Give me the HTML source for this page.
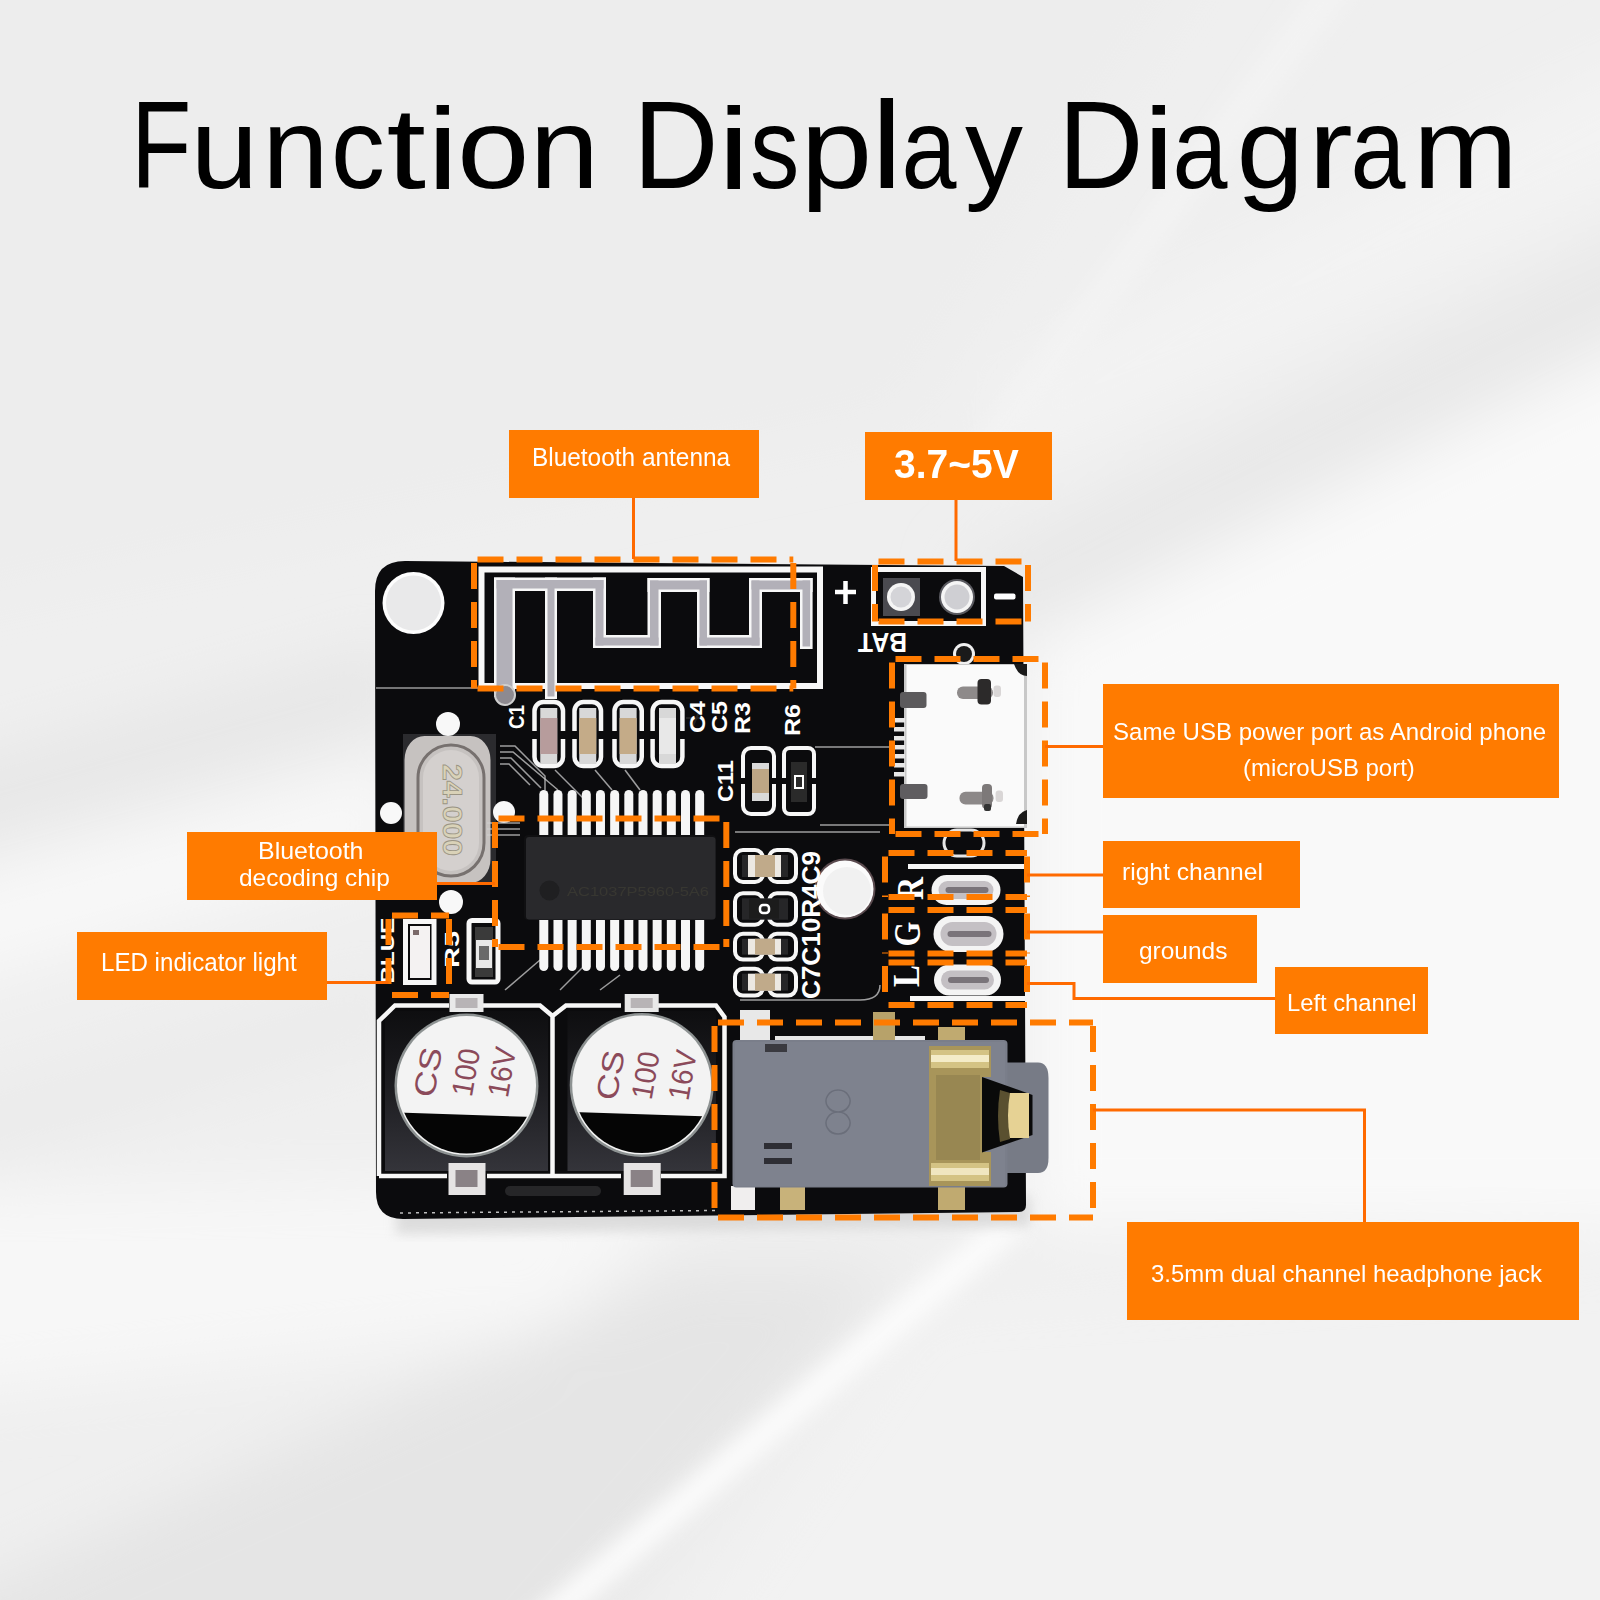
<!DOCTYPE html>
<html><head><meta charset="utf-8">
<style>
html,body{margin:0;padding:0;}
body{width:1600px;height:1600px;position:relative;overflow:hidden;font-family:"Liberation Sans",sans-serif;background:#efefef;}
svg{position:absolute;left:0;top:0;}
.t{position:absolute;white-space:nowrap;line-height:1;}
.title{font-size:123.5px;color:#000;transform-origin:0 0;}
.box{position:absolute;background:#ff7b00;}
.lab{position:absolute;white-space:nowrap;line-height:1;color:#fff;transform-origin:0 0;}
</style></head>
<body>
<svg width="1600" height="1600" viewBox="0 0 1600 1600">

<defs>
<filter id="bgb" x="-10%" y="-10%" width="120%" height="120%"><feGaussianBlur stdDeviation="30"/></filter>
<filter id="bgb2" x="-10%" y="-10%" width="120%" height="120%"><feGaussianBlur stdDeviation="10"/></filter>
</defs>
<rect width="1600" height="1600" fill="#efefef"/>
<g filter="url(#bgb)">
<!-- top-left slightly darker -->
<path d="M-100 -100 L1250 -100 L900 420 L-100 620 Z" fill="#ededed"/>
<!-- right white region -->
<path d="M1030 650 L1700 320 L1700 1230 L1030 1230 Z" fill="#f9f9f9"/>
<!-- gray band right -->
<path d="M960 570 L1700 200 L1700 290 L990 640 Z" fill="#e8e8e8"/>
<!-- top right lighter -->
<path d="M1000 380 L1700 20 L1700 150 L1000 480 Z" fill="#f3f3f3"/>
<!-- left gray band -->
<path d="M-100 780 L400 640 L400 720 L-100 860 Z" fill="#e7e7e7"/>
<!-- left white band -->
<path d="M-100 900 L400 760 L400 860 L-100 1000 Z" fill="#f8f8f8"/>
<!-- left lower gray -->
<path d="M-100 1110 L400 970 L400 1040 L-100 1190 Z" fill="#ebebeb"/>
<!-- bottom-left white -->
<path d="M-100 1190 L700 1180 L560 1330 L-100 1400 Z" fill="#f7f7f7"/>
<!-- bottom gray wedge -->
<path d="M-100 1620 L-50 1600 L680 1270 L900 1270 L520 1700 L-100 1700 Z" fill="#e5e5e5"/>
<!-- bottom right -->
<path d="M920 1300 L1700 1250 L1700 1700 L640 1700 Z" fill="#f2f2f2"/>
</g>
<g filter="url(#bgb2)">
<path d="M1320 -20 L1360 -20 L990 470 L960 460 Z" fill="#f3f3f3"/>
<path d="M500 1640 L990 1222 L1030 1228 L545 1640 Z" fill="#fbfbfb"/>
</g>

</svg>
<div class="t title" style="left:123.12px;top:84px;transform-origin:40.0px 103px;transform:scale(0.800,1.0)">F</div>
<div class="t title" style="left:190.38px;top:84px;transform-origin:34.0px 103px;transform:scale(0.986,0.93)">u</div>
<div class="t title" style="left:261.12px;top:84px;transform-origin:34.5px 103px;transform:scale(0.967,0.93)">n</div>
<div class="t title" style="left:326.62px;top:84px;transform-origin:31.5px 103px;transform:scale(0.873,0.93)">c</div>
<div class="t title" style="left:389.38px;top:84px;transform-origin:17.5px 103px;transform:scale(1.150,0.93)">t</div>
<div class="t title" style="left:429.00px;top:84px;transform-origin:13.5px 103px;transform:scale(1.136,0.93)">i</div>
<div class="t title" style="left:459.12px;top:84px;transform-origin:34.0px 103px;transform:scale(1.056,0.93)">o</div>
<div class="t title" style="left:529.88px;top:84px;transform-origin:34.5px 103px;transform:scale(1.014,0.93)">n</div>
<div class="t title" style="left:631.00px;top:84px;transform-origin:46.5px 103px;transform:scale(0.959,1.0)">D</div>
<div class="t title" style="left:719.62px;top:84px;transform-origin:13.5px 103px;transform:scale(1.150,0.93)">i</div>
<div class="t title" style="left:743.88px;top:84px;transform-origin:30.5px 103px;transform:scale(0.800,0.93)">s</div>
<div class="t title" style="left:802.00px;top:84px;transform-origin:35.5px 103px;transform:scale(1.045,0.93)">p</div>
<div class="t title" style="left:872.75px;top:84px;transform-origin:13.5px 103px;transform:scale(1.136,1.0)">l</div>
<div class="t title" style="left:894.25px;top:84px;transform-origin:37.0px 103px;transform:scale(0.800,0.93)">a</div>
<div class="t title" style="left:963.38px;top:84px;transform-origin:31.0px 103px;transform:scale(0.938,0.93)">y</div>
<div class="t title" style="left:1056.00px;top:84px;transform-origin:46.5px 103px;transform:scale(0.959,1.0)">D</div>
<div class="t title" style="left:1144.62px;top:84px;transform-origin:13.5px 103px;transform:scale(1.150,0.93)">i</div>
<div class="t title" style="left:1164.88px;top:84px;transform-origin:37.0px 103px;transform:scale(0.800,0.93)">a</div>
<div class="t title" style="left:1235.75px;top:84px;transform-origin:33.0px 103px;transform:scale(0.982,0.93)">g</div>
<div class="t title" style="left:1309.62px;top:84px;transform-origin:23.5px 103px;transform:scale(1.089,0.93)">r</div>
<div class="t title" style="left:1343.00px;top:84px;transform-origin:37.0px 103px;transform:scale(0.800,0.93)">a</div>
<div class="t title" style="left:1414.12px;top:84px;transform-origin:51.5px 103px;transform:scale(1.020,0.93)">m</div>
<svg width="1600" height="1600" viewBox="0 0 1600 1600"><defs></defs>
<filter id="blur2" x="-20%" y="-20%" width="140%" height="140%"><feGaussianBlur stdDeviation="6"/></filter>
<path d="M396 1200 L1030 1196 L1030 1226 L396 1234 Z" fill="#d6d6d6" filter="url(#blur2)" opacity="0.8"/>
<path d="M405 561 L1004 566 L1023 577 L1026 1205 Q1026 1212 1019 1212 L403 1219 Q376 1219 376 1192 L375 591 Q375 561 405 561 Z" fill="#0b0b0d"/>
<circle cx="413.5" cy="603" r="31" fill="#fdfdfd"/><circle cx="413.5" cy="603" r="27.5" fill="#e9e9ea"/>
<line x1="376" y1="688" x2="479" y2="688" stroke="#9a9a9a" stroke-width="1.5"/>
<rect x="481.5" y="569.5" width="338.5" height="116.5" fill="none" stroke="#f7f7f7" stroke-width="6"/>
<rect x="494" y="577.5" width="21" height="119.5" fill="#f7f7f7"/>
<rect x="494" y="577.5" width="112" height="13.5" fill="#f7f7f7"/>
<rect x="545" y="577.5" width="12" height="121.5" fill="#f7f7f7"/>
<rect x="593" y="577.5" width="13" height="70.5" fill="#f7f7f7"/>
<rect x="593" y="635" width="68" height="13" fill="#f7f7f7"/>
<rect x="647.5" y="578" width="13.5" height="70" fill="#f7f7f7"/>
<rect x="647.5" y="578" width="62.0" height="14" fill="#f7f7f7"/>
<rect x="697" y="578" width="12.5" height="70" fill="#f7f7f7"/>
<rect x="697" y="635" width="65" height="13" fill="#f7f7f7"/>
<rect x="749" y="578" width="13" height="70" fill="#f7f7f7"/>
<rect x="749" y="578" width="63.60000000000002" height="14" fill="#f7f7f7"/>
<rect x="800" y="578" width="12.600000000000023" height="71" fill="#f7f7f7"/>
<rect x="496.5" y="580.0" width="16" height="114.5" fill="#b2b0b8"/>
<rect x="496.5" y="580.0" width="107" height="8.5" fill="#b2b0b8"/>
<rect x="547.5" y="580.0" width="7" height="116.5" fill="#b2b0b8"/>
<rect x="595.5" y="580.0" width="8" height="65.5" fill="#b2b0b8"/>
<rect x="595.5" y="637.5" width="63" height="8" fill="#b2b0b8"/>
<rect x="650.0" y="580.5" width="8.5" height="65" fill="#b2b0b8"/>
<rect x="650.0" y="580.5" width="57.0" height="9" fill="#b2b0b8"/>
<rect x="699.5" y="580.5" width="7.5" height="65" fill="#b2b0b8"/>
<rect x="699.5" y="637.5" width="60" height="8" fill="#b2b0b8"/>
<rect x="751.5" y="580.5" width="8" height="65" fill="#b2b0b8"/>
<rect x="751.5" y="580.5" width="58.60000000000002" height="9" fill="#b2b0b8"/>
<rect x="802.5" y="580.5" width="7.600000000000023" height="66" fill="#b2b0b8"/>
<circle cx="505" cy="695" r="10" fill="#8d8a90" stroke="#cfcfcf" stroke-width="2"/>
<path d="M835 592 L856 592 M845.5 581 L845.5 604" stroke="#fff" stroke-width="4.5" fill="none"/>
<rect x="873.5" y="569.5" width="110" height="54" fill="none" stroke="#f7f7f7" stroke-width="5"/>
<rect x="883" y="578" width="37" height="38" fill="#4a4a50"/>
<circle cx="901" cy="597" r="14" fill="#f5f5f5"/><circle cx="901" cy="597" r="10.5" fill="#d4d4d8"/>
<circle cx="957" cy="597" r="18" fill="#5a5a60"/><circle cx="957" cy="597" r="16" fill="#f5f5f5"/><circle cx="957" cy="597" r="12.5" fill="#cfcfd3"/>
<rect x="994" y="593.5" width="21.5" height="6" rx="2" fill="#fff"/>
<text x="0" y="0" transform="translate(907 633) rotate(180)" font-family="Liberation Sans" font-weight="bold" font-size="28" fill="#fff" textLength="49" lengthAdjust="spacingAndGlyphs">BAT</text>
<circle cx="964" cy="654" r="11" fill="#f0f0f0"/><circle cx="964" cy="654" r="8" fill="#1a1a1a"/>
<rect x="904" y="664" width="123" height="164" fill="#c8c8c8"/>
<rect x="906.5" y="665" width="117.5" height="161.5" fill="#fafafa"/>
<path d="M1014 664 L1027 664 L1027 676 Q1018 676 1014 664 Z" fill="#1a1a1a"/><path d="M1027 810 L1027 824 L1016 824 Q1018 812 1027 810 Z" fill="#1a1a1a"/>
<rect x="900" y="692" width="26.5" height="16" rx="3" fill="#5c5a5c"/><rect x="900" y="784" width="27.5" height="15" rx="3" fill="#5f5d60"/>
<rect x="957" y="686.5" width="36" height="12.5" rx="6" fill="#8e8a8a"/><rect x="977.5" y="679" width="13.5" height="25.6" rx="4" fill="#2c2a2a"/><rect x="993.5" y="685.5" width="7.5" height="11.5" rx="3" fill="#d9d6d6"/>
<rect x="959.5" y="791.7" width="34" height="12.8" rx="6" fill="#8c8888"/><rect x="982" y="784" width="10" height="24.7" rx="4" fill="#7d7979"/><rect x="984" y="804" width="7" height="7" rx="2" fill="#333"/><rect x="995.6" y="790.6" width="7.4" height="11.4" rx="3" fill="#d9d6d6"/>
<rect x="894" y="718" width="11" height="4.5" fill="#e8e8e8"/>
<rect x="894" y="727" width="11" height="4.5" fill="#e8e8e8"/>
<rect x="894" y="736" width="11" height="4.5" fill="#e8e8e8"/>
<rect x="894" y="745" width="11" height="4.5" fill="#e8e8e8"/>
<rect x="894" y="754" width="11" height="4.5" fill="#e8e8e8"/>
<rect x="894" y="763" width="11" height="4.5" fill="#e8e8e8"/>
<rect x="894" y="772" width="11" height="4.5" fill="#e8e8e8"/>
<rect x="908" y="864" width="116" height="5" fill="#f7f7f7"/>
<rect x="910" y="996" width="115" height="5" fill="#f7f7f7"/>
<rect x="931.5" y="875.0" width="69" height="30" rx="15.0" fill="#f4f4f4"/>
<rect x="938.5" y="881.0" width="55" height="18" rx="9.0" fill="#c4c0c4"/>
<rect x="945.5" y="887" width="43" height="6" rx="3" fill="#7a747a"/>
<rect x="933.5" y="916.0" width="70" height="36" rx="18.0" fill="#f4f4f4"/>
<rect x="940.5" y="922.0" width="56" height="24" rx="12.0" fill="#c4c0c4"/>
<rect x="947.5" y="931" width="44" height="6" rx="3" fill="#7a747a"/>
<rect x="934.0" y="964.5" width="67" height="31" rx="15.5" fill="#f4f4f4"/>
<rect x="941.0" y="970.5" width="53" height="19" rx="9.5" fill="#c4c0c4"/>
<rect x="948.0" y="977" width="41" height="6" rx="3" fill="#7a747a"/>
<text transform="translate(910 888.5) rotate(-90)" x="0" y="0" text-anchor="middle" dominant-baseline="central" font-family="Liberation Serif" font-weight="bold" font-size="38" fill="#fff" textLength="23" lengthAdjust="spacingAndGlyphs">R</text>
<text transform="translate(907 934) rotate(-90)" x="0" y="0" text-anchor="middle" dominant-baseline="central" font-family="Liberation Serif" font-weight="bold" font-size="38" fill="#fff" textLength="25" lengthAdjust="spacingAndGlyphs">G</text>
<text transform="translate(906 976) rotate(-90)" x="0" y="0" text-anchor="middle" dominant-baseline="central" font-family="Liberation Serif" font-weight="bold" font-size="38" fill="#fff" textLength="22" lengthAdjust="spacingAndGlyphs">L</text>
<rect x="944" y="830" width="40" height="26" rx="13" fill="none" stroke="#e6e6e6" stroke-width="3"/>
<circle cx="845" cy="889" r="30.5" fill="#5a4a4e"/><circle cx="845" cy="889" r="28.5" fill="#fbfbfb"/><circle cx="847" cy="891" r="24" fill="#f1f1f1"/>
<rect x="403" y="734" width="93" height="148" fill="#2b2b2e"/>
<rect x="404.5" y="736" width="86" height="147" rx="20" ry="24" fill="#c6c2c0"/>
<rect x="418" y="745" width="66" height="131" rx="33" fill="none" stroke="#77716f" stroke-width="3"/>
<rect x="423" y="750" width="56" height="121" rx="28" fill="#d4d0ce"/>
<text transform="translate(452 810) rotate(90)" x="0" y="0" text-anchor="middle" dominant-baseline="central" font-family="Liberation Sans" font-weight="bold" font-size="27" fill="#d9d2b8" stroke="#9a9484" stroke-width="0.8" textLength="92" lengthAdjust="spacingAndGlyphs">24.000</text>
<circle cx="448" cy="724" r="12" fill="#f8f8f8"/>
<circle cx="391" cy="813" r="11" fill="#f8f8f8"/>
<circle cx="504" cy="812" r="11" fill="#f8f8f8"/>
<circle cx="451" cy="902" r="12" fill="#f8f8f8"/>
<rect x="534.5" y="702" width="28.5" height="64" rx="9" fill="none" stroke="#f7f7f7" stroke-width="4.5"/>
<rect x="531.5" y="731" width="34.5" height="8" fill="#0b0b0d"/>
<rect x="540.25" y="708" width="17" height="56" fill="#d8d8d8"/>
<rect x="540.25" y="718" width="17" height="36" fill="#b79c9c"/>
<rect x="574.5" y="702" width="26.5" height="64" rx="9" fill="none" stroke="#f7f7f7" stroke-width="4.5"/>
<rect x="571.5" y="731" width="32.5" height="8" fill="#0b0b0d"/>
<rect x="579.25" y="708" width="17" height="56" fill="#d8d8d8"/>
<rect x="579.25" y="718" width="17" height="36" fill="#c4ab88"/>
<rect x="614.5" y="702" width="27.25" height="64" rx="9" fill="none" stroke="#f7f7f7" stroke-width="4.5"/>
<rect x="611.5" y="731" width="33.25" height="8" fill="#0b0b0d"/>
<rect x="619.625" y="708" width="17" height="56" fill="#d8d8d8"/>
<rect x="619.625" y="718" width="17" height="36" fill="#c4ab88"/>
<rect x="652.6" y="702" width="29.799999999999955" height="64" rx="9" fill="none" stroke="#f7f7f7" stroke-width="4.5"/>
<rect x="649.6" y="731" width="35.799999999999955" height="8" fill="#0b0b0d"/>
<rect x="659.0" y="708" width="17" height="56" fill="#d8d8d8"/>
<rect x="659.0" y="718" width="17" height="36" fill="#e8e8e8"/>
<path d="M693 726 l6 -14 M686 718 l14 0" stroke="#222" stroke-width="2"/>
<rect x="743" y="748" width="31" height="66" rx="8" fill="none" stroke="#f7f7f7" stroke-width="4"/>
<rect x="740" y="778" width="37" height="6" fill="#0b0b0d"/>
<rect x="752" y="763" width="17" height="38" fill="#d9d9d9"/><rect x="752" y="769" width="17" height="24" fill="#bea685"/>
<rect x="784" y="748" width="30" height="66" rx="6" fill="none" stroke="#f7f7f7" stroke-width="4"/>
<rect x="781" y="778" width="36" height="6" fill="#0b0b0d"/>
<rect x="791" y="762" width="16" height="40" fill="#2a2a2a"/><rect x="795" y="776" width="8" height="12" fill="none" stroke="#fff" stroke-width="2"/>
<path d="M500 746 L515 746 L545 776 L545 790" fill="none" stroke="#cfcfcf" stroke-width="1.5" opacity="0.75"/>
<path d="M500 752 L513 752 L558 790" fill="none" stroke="#cfcfcf" stroke-width="1.5" opacity="0.75"/>
<path d="M500 758 L511 758 L541 788" fill="none" stroke="#cfcfcf" stroke-width="1.5" opacity="0.75"/>
<path d="M500 764 L509 764 L530 785" fill="none" stroke="#cfcfcf" stroke-width="1.5" opacity="0.75"/>
<path d="M555 770 L585 800" fill="none" stroke="#cfcfcf" stroke-width="1.5" opacity="0.75"/>
<path d="M595 770 L612 790" fill="none" stroke="#cfcfcf" stroke-width="1.5" opacity="0.75"/>
<path d="M625 770 L640 790" fill="none" stroke="#cfcfcf" stroke-width="1.5" opacity="0.75"/>
<path d="M487 823 L520 823" fill="none" stroke="#cfcfcf" stroke-width="1.5" opacity="0.75"/>
<path d="M487 829 L520 829" fill="none" stroke="#cfcfcf" stroke-width="1.5" opacity="0.75"/>
<path d="M487 835 L520 835" fill="none" stroke="#cfcfcf" stroke-width="1.5" opacity="0.75"/>
<path d="M735 832 L880 832" fill="none" stroke="#cfcfcf" stroke-width="1.5" opacity="0.75"/>
<path d="M815 747 L895 747" fill="none" stroke="#cfcfcf" stroke-width="1.5" opacity="0.75"/>
<path d="M820 825 L890 825" fill="none" stroke="#cfcfcf" stroke-width="1.5" opacity="0.75"/>
<path d="M505 990 L540 960" fill="none" stroke="#cfcfcf" stroke-width="1.5" opacity="0.75"/>
<path d="M560 990 L590 960" fill="none" stroke="#cfcfcf" stroke-width="1.5" opacity="0.75"/>
<path d="M600 990 L620 975" fill="none" stroke="#cfcfcf" stroke-width="1.5" opacity="0.75"/>
<path d="M740 1000 L860 1000" fill="none" stroke="#cfcfcf" stroke-width="1.5" opacity="0.75"/>
<path d="M860 1000 Q880 1000 880 985" fill="none" stroke="#cfcfcf" stroke-width="1.5" opacity="0.75"/>
<rect x="539.3" y="790" width="9" height="50" rx="4.5" fill="#f6f6f6"/>
<rect x="539.3" y="916" width="9" height="55" rx="4.5" fill="#f6f6f6"/>
<rect x="553.4699999999999" y="790" width="9" height="50" rx="4.5" fill="#f6f6f6"/>
<rect x="553.4699999999999" y="916" width="9" height="55" rx="4.5" fill="#f6f6f6"/>
<rect x="567.64" y="790" width="9" height="50" rx="4.5" fill="#f6f6f6"/>
<rect x="567.64" y="916" width="9" height="55" rx="4.5" fill="#f6f6f6"/>
<rect x="581.81" y="790" width="9" height="50" rx="4.5" fill="#f6f6f6"/>
<rect x="581.81" y="916" width="9" height="55" rx="4.5" fill="#f6f6f6"/>
<rect x="595.9799999999999" y="790" width="9" height="50" rx="4.5" fill="#f6f6f6"/>
<rect x="595.9799999999999" y="916" width="9" height="55" rx="4.5" fill="#f6f6f6"/>
<rect x="610.15" y="790" width="9" height="50" rx="4.5" fill="#f6f6f6"/>
<rect x="610.15" y="916" width="9" height="55" rx="4.5" fill="#f6f6f6"/>
<rect x="624.3199999999999" y="790" width="9" height="50" rx="4.5" fill="#f6f6f6"/>
<rect x="624.3199999999999" y="916" width="9" height="55" rx="4.5" fill="#f6f6f6"/>
<rect x="638.49" y="790" width="9" height="50" rx="4.5" fill="#f6f6f6"/>
<rect x="638.49" y="916" width="9" height="55" rx="4.5" fill="#f6f6f6"/>
<rect x="652.66" y="790" width="9" height="50" rx="4.5" fill="#f6f6f6"/>
<rect x="652.66" y="916" width="9" height="55" rx="4.5" fill="#f6f6f6"/>
<rect x="666.8299999999999" y="790" width="9" height="50" rx="4.5" fill="#f6f6f6"/>
<rect x="666.8299999999999" y="916" width="9" height="55" rx="4.5" fill="#f6f6f6"/>
<rect x="681.0" y="790" width="9" height="50" rx="4.5" fill="#f6f6f6"/>
<rect x="681.0" y="916" width="9" height="55" rx="4.5" fill="#f6f6f6"/>
<rect x="695.17" y="790" width="9" height="50" rx="4.5" fill="#f6f6f6"/>
<rect x="695.17" y="916" width="9" height="55" rx="4.5" fill="#f6f6f6"/>
<rect x="524" y="835" width="192" height="85" rx="4" fill="#101012"/>
<rect x="526" y="837" width="189.5" height="82.5" rx="3" fill="#29292c"/>
<circle cx="549.5" cy="890.5" r="10" fill="#1f1f21"/>
<text x="567" y="896" font-family="Liberation Sans" font-size="12" fill="#4a4838" opacity="0.45" textLength="142" lengthAdjust="spacingAndGlyphs">AC1037P5960-5A6</text>
<rect x="735" y="850" width="28" height="32" rx="8" fill="none" stroke="#f7f7f7" stroke-width="4"/>
<rect x="769" y="850" width="27" height="32" rx="8" fill="none" stroke="#f7f7f7" stroke-width="4"/>
<rect x="742" y="855" width="46" height="22" fill="#262628"/>
<rect x="748" y="855" width="33" height="22" fill="#ece8e2"/><rect x="755" y="855" width="20" height="22" fill="#c0aa8a"/>
<rect x="735" y="893.3" width="28" height="31.40000000000009" rx="8" fill="none" stroke="#f7f7f7" stroke-width="4"/>
<rect x="769" y="893.3" width="27" height="31.40000000000009" rx="8" fill="none" stroke="#f7f7f7" stroke-width="4"/>
<rect x="742" y="898.3" width="46" height="21.40000000000009" fill="#262628"/>
<rect x="749" y="899.3" width="30" height="19.40000000000009" fill="#1c1c1c"/><rect x="760" y="905.0" width="9" height="8" rx="3" fill="none" stroke="#fff" stroke-width="2.5"/>
<rect x="735" y="933.8" width="28" height="25.800000000000068" rx="8" fill="none" stroke="#f7f7f7" stroke-width="4"/>
<rect x="769" y="933.8" width="27" height="25.800000000000068" rx="8" fill="none" stroke="#f7f7f7" stroke-width="4"/>
<rect x="742" y="938.8" width="46" height="15.800000000000068" fill="#262628"/>
<rect x="748" y="938.8" width="33" height="15.800000000000068" fill="#ece8e2"/><rect x="755" y="938.8" width="20" height="15.800000000000068" fill="#c0aa8a"/>
<rect x="735" y="968.7" width="28" height="26.899999999999977" rx="8" fill="none" stroke="#f7f7f7" stroke-width="4"/>
<rect x="769" y="968.7" width="27" height="26.899999999999977" rx="8" fill="none" stroke="#f7f7f7" stroke-width="4"/>
<rect x="742" y="973.7" width="46" height="16.899999999999977" fill="#262628"/>
<rect x="748" y="973.7" width="33" height="16.899999999999977" fill="#ece8e2"/><rect x="755" y="973.7" width="20" height="16.899999999999977" fill="#c0aa8a"/>
<text transform="translate(811 925) rotate(-90)" x="0" y="0" text-anchor="middle" dominant-baseline="central" font-family="Liberation Sans" font-weight="bold" font-size="25" fill="#fff" textLength="148" lengthAdjust="spacingAndGlyphs">C7C10R4C9</text>
<rect x="405.5" y="921.5" width="28.5" height="61" fill="none" stroke="#f7f7f7" stroke-width="5"/>
<rect x="410" y="926" width="20" height="52" fill="#f4f2f2"/><rect x="413" y="930" width="6" height="5" fill="#7a6a6a"/>
<rect x="469" y="920.5" width="29" height="61.5" rx="3" fill="none" stroke="#f7f7f7" stroke-width="5"/>
<rect x="475" y="927" width="18" height="50" fill="#3a3a3a"/><rect x="476" y="940" width="16" height="28" fill="#e8e8e8"/><rect x="479" y="946" width="10" height="14" fill="#6a6a6a"/>
<text transform="translate(387.5 950.5) rotate(-90)" x="0" y="0" text-anchor="middle" dominant-baseline="central" font-family="Liberation Sans" font-weight="bold" font-size="19" fill="#fff" textLength="66" lengthAdjust="spacingAndGlyphs">BLUE</text>
<text transform="translate(451 949.5) rotate(-90)" x="0" y="0" text-anchor="middle" dominant-baseline="central" font-family="Liberation Sans" font-weight="bold" font-size="21" fill="#fff" textLength="37" lengthAdjust="spacingAndGlyphs">R5</text>
<text transform="translate(516.5 717) rotate(-90)" x="0" y="0" text-anchor="middle" dominant-baseline="central" font-family="Liberation Sans" font-weight="bold" font-size="22" fill="#fff" textLength="24" lengthAdjust="spacingAndGlyphs">C1</text>
<text transform="translate(697 717) rotate(-90)" x="0" y="0" text-anchor="middle" dominant-baseline="central" font-family="Liberation Sans" font-weight="bold" font-size="22" fill="#fff" textLength="32" lengthAdjust="spacingAndGlyphs">C4</text>
<text transform="translate(719 717) rotate(-90)" x="0" y="0" text-anchor="middle" dominant-baseline="central" font-family="Liberation Sans" font-weight="bold" font-size="22" fill="#fff" textLength="32" lengthAdjust="spacingAndGlyphs">C5</text>
<text transform="translate(742 718) rotate(-90)" x="0" y="0" text-anchor="middle" dominant-baseline="central" font-family="Liberation Sans" font-weight="bold" font-size="22" fill="#fff" textLength="32" lengthAdjust="spacingAndGlyphs">R3</text>
<text transform="translate(792 720) rotate(-90)" x="0" y="0" text-anchor="middle" dominant-baseline="central" font-family="Liberation Sans" font-weight="bold" font-size="22" fill="#fff" textLength="32" lengthAdjust="spacingAndGlyphs">R6</text>
<text transform="translate(725 781) rotate(-90)" x="0" y="0" text-anchor="middle" dominant-baseline="central" font-family="Liberation Sans" font-weight="bold" font-size="22" fill="#fff" textLength="42" lengthAdjust="spacingAndGlyphs">C11</text>
<linearGradient id="capbase" x1="0" y1="0" x2="0" y2="1"><stop offset="0" stop-color="#0e0e10"/><stop offset="0.5" stop-color="#1e1e22"/><stop offset="1" stop-color="#34343a"/></linearGradient>
<rect x="385" y="1011" width="163.0" height="160" fill="url(#capbase)"/>
<rect x="567.5" y="1011" width="148.4000000000001" height="160" fill="url(#capbase)"/>
<path d="M379 1176 L379 1021 L395 1005.5 L449 1005.5 M482 1005.5 L540 1005.5 L552.5 1016 L566 1005.5 L621 1005.5 M657 1005.5 L716 1005.5 L724.5 1017 L724.5 1176 L661 1176 M621 1176 L552.5 1176 L487 1176 M447 1176 L379 1176 M552.5 1016 L552.5 1176" fill="none" stroke="#f7f7f7" stroke-width="4.5" stroke-linejoin="miter"/>
<rect x="449.5" y="994" width="34" height="18" fill="#e9e9e9"/><rect x="455.5" y="998" width="22" height="10" fill="#b8b4b6"/>
<rect x="448.5" y="1163" width="37" height="32" fill="#e6e4e4"/><rect x="455.5" y="1170" width="22" height="17" fill="#8a8286"/>
<circle cx="466.5" cy="1085.5" r="72" fill="#8d9292"/>
<circle cx="466.5" cy="1085.5" r="69.5" fill="#f3f3f3"/>
<clipPath id="cc466"><circle cx="466.5" cy="1085.5" r="68"/></clipPath>
<path d="M386.5 1112.0 L546.5 1117.5 L546.5 1165.5 L386.5 1165.5 Z" fill="#050505" clip-path="url(#cc466)"/>
<g fill="#8b4a5a" font-family="Liberation Sans" font-size="30">
<text transform="translate(438.0 1074.0) rotate(-80)" x="0" y="0" text-anchor="middle" textLength="50" lengthAdjust="spacingAndGlyphs">CS</text>
<text transform="translate(476.0 1074.0) rotate(-80)" x="0" y="0" text-anchor="middle" textLength="48" lengthAdjust="spacingAndGlyphs">100</text>
<text transform="translate(512.0 1074.0) rotate(-80)" x="0" y="0" text-anchor="middle" textLength="50" lengthAdjust="spacingAndGlyphs">16V</text>
</g>
<rect x="624.7" y="994" width="34" height="18" fill="#e9e9e9"/><rect x="630.7" y="998" width="22" height="10" fill="#b8b4b6"/>
<rect x="623.7" y="1163" width="37" height="32" fill="#e6e4e4"/><rect x="630.7" y="1170" width="22" height="17" fill="#8a8286"/>
<circle cx="641.7" cy="1085" r="72" fill="#8d9292"/>
<circle cx="641.7" cy="1085" r="69.5" fill="#f3f3f3"/>
<clipPath id="cc641"><circle cx="641.7" cy="1085" r="68"/></clipPath>
<path d="M561.7 1111.5 L721.7 1117 L721.7 1165 L561.7 1165 Z" fill="#050505" clip-path="url(#cc641)"/>
<g fill="#8b4a5a" font-family="Liberation Sans" font-size="30">
<text transform="translate(620.7 1077) rotate(-80)" x="0" y="0" text-anchor="middle" textLength="50" lengthAdjust="spacingAndGlyphs">CS</text>
<text transform="translate(655.7 1077) rotate(-80)" x="0" y="0" text-anchor="middle" textLength="48" lengthAdjust="spacingAndGlyphs">100</text>
<text transform="translate(692.7 1077) rotate(-80)" x="0" y="0" text-anchor="middle" textLength="50" lengthAdjust="spacingAndGlyphs">16V</text>
</g>
<rect x="505" y="1186" width="96" height="10" rx="5" fill="#262628"/>
<line x1="400" y1="1213" x2="715" y2="1210.5" stroke="#bdbdbd" stroke-width="1.5" stroke-dasharray="3 5"/>
<rect x="740" y="1010" width="30" height="30" fill="#e8e8e8"/><rect x="775" y="1036" width="150" height="6" fill="#e6e6e6"/>
<rect x="731" y="1186" width="24" height="24" fill="#f0eeee"/><rect x="780" y="1184" width="25" height="26" fill="#c8b27a"/><rect x="938" y="1184" width="27" height="26" fill="#c0aa70"/>
<rect x="873" y="1012" width="22" height="28" fill="#b7a26a"/><rect x="938" y="1027" width="27" height="14" fill="#c0aa70"/>
<path d="M1006 1062.5 L1038 1062.5 Q1048.5 1062.5 1048.5 1078 L1048.5 1158 Q1048.5 1173 1038 1173 L1006 1173 Z" fill="#777b86"/>
<rect x="732.5" y="1040" width="275" height="147.5" rx="4" fill="#7a7e8a"/>
<rect x="735" y="1042" width="270" height="144" fill="#868a96" opacity="0.35"/><path d="M838 1090 a12 11 0 1 0 0.1 0 M838 1112 a12 11 0 1 0 0.1 0" fill="none" stroke="#6a6e7a" stroke-width="1.5"/>
<rect x="765" y="1044" width="22" height="8" fill="#3a3a40"/><rect x="764" y="1143" width="28" height="6" fill="#2e2e34"/><rect x="764" y="1158" width="28" height="6" fill="#2e2e34"/>
<path d="M929 1046 L991 1046 L991 1077 L982 1077 L982 1152 L991 1152 L991 1186 L929 1186 Z" fill="#a8955a"/>
<rect x="931" y="1050" width="58" height="18" fill="#d8c888" opacity="0.9"/><rect x="931" y="1055" width="58" height="7" fill="#f4ecc8"/><rect x="931" y="1163" width="58" height="18" fill="#d8c888" opacity="0.9"/><rect x="931" y="1168" width="58" height="7" fill="#f0e6c0"/><rect x="936" y="1075" width="44" height="85" fill="#8e7e4c" opacity="0.6"/>
<path d="M982 1077 L1032.5 1095 L1032.5 1135 L982 1152.5 Z" fill="#0a0a0a"/>
<path d="M1000 1090 L1010 1093 L1010 1139 L1000 1142 Q996 1116 1000 1090 Z" fill="#5a5030"/><path d="M1010 1093 L1029 1093 L1029 1138 L1010 1138 Q1006 1116 1010 1093 Z" fill="#e6d294"/>
<path d="M474 559.5 L793.3 559.5 M793.3 559.5 L793.3 688.5 M474 559.5 L474 688.5 M474 688.5 L793.3 688.5" fill="none" stroke="#ff7b00" stroke-width="6" stroke-dasharray="26 13" stroke-dashoffset="-3.5"/>
<path d="M875 561.5 L1028 561.5 M1028 561.5 L1028 621.5 M875 561.5 L875 621.5 M875 621.5 L1028 621.5" fill="none" stroke="#ff7b00" stroke-width="6" stroke-dasharray="26 13" stroke-dashoffset="-3.5"/>
<path d="M892 659 L1045 659 M1045 659 L1045 834 M892 659 L892 834 M892 834 L1045 834" fill="none" stroke="#ff7b00" stroke-width="6" stroke-dasharray="26 13" stroke-dashoffset="-3.5"/>
<path d="M495 818.5 L726.3 818.5 M726.3 818.5 L726.3 947 M495 818.5 L495 947 M495 947 L726.3 947" fill="none" stroke="#ff7b00" stroke-width="6" stroke-dasharray="26 13" stroke-dashoffset="-3.5"/>
<path d="M388.5 915.5 L449 915.5 M449 915.5 L449 995 M388.5 915.5 L388.5 995 M388.5 995 L449 995" fill="none" stroke="#ff7b00" stroke-width="6" stroke-dasharray="26 13" stroke-dashoffset="-3.5"/>
<path d="M885 853 L1027 853 M1027 853 L1027 897 M885 853 L885 897 M885 897 L1027 897" fill="none" stroke="#ff7b00" stroke-width="6" stroke-dasharray="26 13" stroke-dashoffset="-3.5"/>
<path d="M885 910 L1027 910 M1027 910 L1027 953.5 M885 910 L885 953.5 M885 953.5 L1027 953.5" fill="none" stroke="#ff7b00" stroke-width="6" stroke-dasharray="26 13" stroke-dashoffset="-3.5"/>
<path d="M885 962.5 L1027 962.5 M1027 962.5 L1027 1005 M885 962.5 L885 1005 M885 1005 L1027 1005" fill="none" stroke="#ff7b00" stroke-width="6" stroke-dasharray="26 13" stroke-dashoffset="-3.5"/>
<path d="M714.5 1022.5 L1093 1022.5 M1093 1022.5 L1093 1217.5 M714.5 1022.5 L714.5 1217.5 M714.5 1217.5 L1093 1217.5" fill="none" stroke="#ff7b00" stroke-width="6" stroke-dasharray="26 13" stroke-dashoffset="-3.5"/>
<path d="M633.5 498 L633.5 559" fill="none" stroke="#ff6a00" stroke-width="3"/>
<path d="M956 499 L956 561" fill="none" stroke="#ff6a00" stroke-width="3"/>
<path d="M1045 746.5 L1103 746.5" fill="none" stroke="#ff6a00" stroke-width="3"/>
<path d="M1027 875 L1103 875" fill="none" stroke="#ff6a00" stroke-width="3"/>
<path d="M1027 932 L1103 932" fill="none" stroke="#ff6a00" stroke-width="3"/>
<path d="M1027 983.5 L1074 983.5 L1074 998.5 L1275 998.5" fill="none" stroke="#ff6a00" stroke-width="3"/>
<path d="M1093 1110 L1364.5 1110 L1364.5 1222" fill="none" stroke="#ff6a00" stroke-width="3"/>
<path d="M437 883.5 L495 883.5" fill="none" stroke="#ff6a00" stroke-width="3"/>
<path d="M327 982.5 L388.5 982.5" fill="none" stroke="#ff6a00" stroke-width="3"/>
</svg>
<div class="box" style="left:509px;top:430px;width:250px;height:68px;"></div>
<div class="box" style="left:865px;top:432px;width:187px;height:68px;"></div>
<div class="box" style="left:1103px;top:684px;width:456px;height:114px;"></div>
<div class="box" style="left:1103px;top:841px;width:197px;height:67px;"></div>
<div class="box" style="left:1103px;top:915px;width:154px;height:68px;"></div>
<div class="box" style="left:1275px;top:967px;width:153px;height:67px;"></div>
<div class="box" style="left:1127px;top:1222px;width:452px;height:98px;"></div>
<div class="box" style="left:187px;top:832px;width:250px;height:68px;"></div>
<div class="box" style="left:77px;top:932px;width:250px;height:68px;"></div>
<div class="lab" style="left:531.7px;top:444.5px;font-size:25.0px;transform:scaleX(0.9761);">Bluetooth antenna</div>
<div class="lab" style="left:894.1px;top:443px;font-size:41.5px;transform:scaleX(0.9405);font-weight:bold;">3.7~5V</div>
<div class="lab" style="left:1112.9px;top:720.2px;font-size:24.5px;transform:scaleX(0.9818);">Same USB power port as Android phone</div>
<div class="lab" style="left:1243.1px;top:755.5px;font-size:24.5px;transform:scaleX(0.9785);">(microUSB port)</div>
<div class="lab" style="left:1121.8px;top:860.3px;font-size:24.5px;transform:scaleX(1.0044);">right channel</div>
<div class="lab" style="left:1138.5px;top:938.7px;font-size:24.5px;transform:scaleX(0.9989);">grounds</div>
<div class="lab" style="left:1287.0px;top:990.6px;font-size:24.5px;transform:scaleX(0.97);">Left channel</div>
<div class="lab" style="left:1150.8px;top:1262.3px;font-size:24.5px;transform:scaleX(0.976);">3.5mm dual channel headphone jack</div>
<div class="lab" style="left:257.9px;top:838.8px;font-size:24.0px;transform:scaleX(1.0398);">Bluetooth</div>
<div class="lab" style="left:239.0px;top:866.2px;font-size:24.0px;transform:scaleX(1.0188);">decoding chip</div>
<div class="lab" style="left:100.5px;top:950px;font-size:25.0px;transform:scaleX(0.9647);">LED indicator light</div>
</body></html>
